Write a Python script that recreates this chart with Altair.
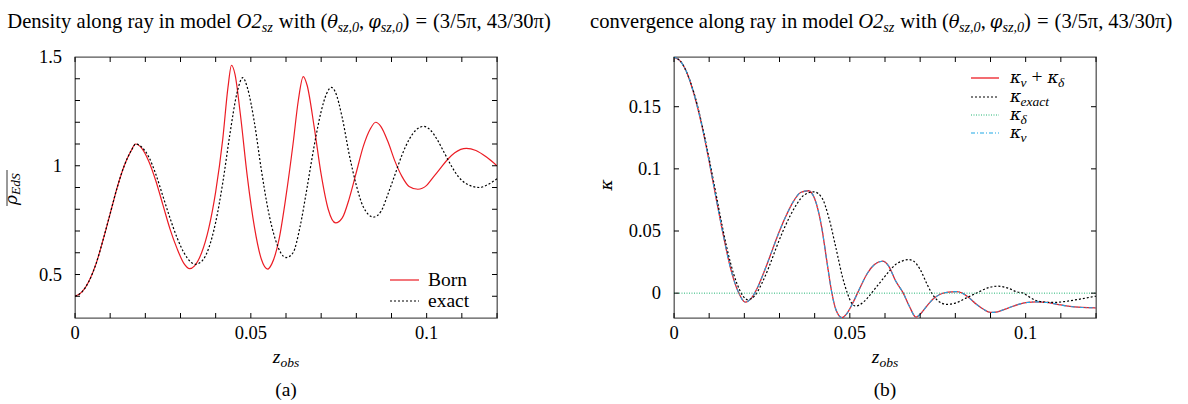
import altair as alt
import pandas as pd

# ---------------- data ----------------
z_born = [0.000, 0.002, 0.004, 0.006, 0.008, 0.010, 0.012, 0.014, 0.016, 0.0172,
          0.019, 0.021, 0.023, 0.025, 0.027, 0.029, 0.031, 0.0326, 0.034, 0.036,
          0.038, 0.040, 0.042, 0.0435, 0.0445, 0.0455, 0.047, 0.049, 0.051, 0.053,
          0.0548, 0.056, 0.058, 0.060, 0.062, 0.0635, 0.0649, 0.066, 0.068, 0.070,
          0.072, 0.0741, 0.076, 0.078, 0.080, 0.082, 0.084, 0.0855, 0.087, 0.089,
          0.091, 0.093, 0.095, 0.0975, 0.100, 0.102, 0.104, 0.106, 0.108, 0.1113,
          0.114, 0.117, 0.120]
rho_born = [0.40, 0.42, 0.47, 0.55, 0.66, 0.78, 0.90, 1.00, 1.07, 1.10,
            1.08, 1.02, 0.93, 0.82, 0.71, 0.62, 0.55, 0.527, 0.54, 0.60,
            0.71, 0.88, 1.12, 1.36, 1.462, 1.42, 1.24, 0.95, 0.72, 0.57,
            0.525, 0.55, 0.66, 0.86, 1.10, 1.30, 1.41, 1.37, 1.18, 0.96,
            0.80, 0.737, 0.76, 0.85, 0.97, 1.09, 1.17, 1.20, 1.18, 1.11,
            1.02, 0.95, 0.905, 0.892, 0.91, 0.95, 0.99, 1.03, 1.06, 1.08,
            1.07, 1.04, 1.00]

z_exact = [0.000, 0.002, 0.004, 0.006, 0.008, 0.010, 0.012, 0.014, 0.016, 0.0173,
           0.019, 0.021, 0.023, 0.025, 0.027, 0.029, 0.031, 0.033, 0.0342, 0.036,
           0.038, 0.040, 0.042, 0.044, 0.046, 0.0477, 0.049, 0.051, 0.053, 0.055,
           0.057, 0.0585, 0.0601, 0.062, 0.064, 0.066, 0.068, 0.070, 0.0715, 0.0729,
           0.074, 0.076, 0.078, 0.080, 0.082, 0.0849, 0.087, 0.089, 0.091, 0.093,
           0.095, 0.097, 0.0992, 0.101, 0.103, 0.105, 0.107, 0.109, 0.111, 0.113,
           0.1151, 0.117, 0.120]
rho_exact = [0.40, 0.42, 0.47, 0.55, 0.66, 0.78, 0.90, 1.00, 1.07, 1.10,
             1.085, 1.04, 0.96, 0.86, 0.76, 0.67, 0.60, 0.556, 0.547, 0.56,
             0.62, 0.74, 0.92, 1.14, 1.33, 1.405, 1.36, 1.20, 0.98, 0.79,
             0.66, 0.60, 0.578, 0.60, 0.72, 0.90, 1.09, 1.25, 1.33, 1.36,
             1.34, 1.22, 1.05, 0.91, 0.81, 0.764, 0.79, 0.87, 0.96, 1.05,
             1.12, 1.165, 1.181, 1.165, 1.12, 1.06, 1.00, 0.95, 0.92, 0.905,
             0.90, 0.91, 0.94]

z_kappa = [0.000, 0.002, 0.004, 0.006, 0.008, 0.010, 0.012, 0.014, 0.016, 0.018,
           0.0203, 0.022, 0.024, 0.026, 0.028, 0.030, 0.032, 0.034, 0.036, 0.0382,
           0.040, 0.042, 0.0435, 0.0449, 0.046, 0.0478, 0.049, 0.051, 0.053, 0.055,
           0.057, 0.0593, 0.061, 0.063, 0.0652, 0.067, 0.0688, 0.070, 0.072, 0.074,
           0.076, 0.078, 0.0803, 0.082, 0.084, 0.086, 0.088, 0.0900, 0.092, 0.095,
           0.098, 0.1005, 0.103, 0.106, 0.109, 0.112, 0.116, 0.120]
kappa_v = [0.190, 0.186, 0.175, 0.157, 0.134, 0.106, 0.076, 0.047, 0.021, 0.003,
           -0.0072, -0.004, 0.006, 0.020, 0.035, 0.050, 0.063, 0.074, 0.081, 0.0824,
           0.076, 0.053, 0.025, 0.000, -0.013, -0.0198, -0.017, -0.007, 0.005, 0.016,
           0.023, 0.0257, 0.022, 0.010, 0.000, -0.011, -0.0193, -0.017, -0.010, -0.004,
           -0.0005, 0.0008, 0.0012, 0.000, -0.004, -0.009, -0.013, -0.0155, -0.015, -0.012,
           -0.009, -0.0075, -0.0070, -0.0075, -0.0090, -0.0105, -0.0115, -0.0118]
kappa_sum = kappa_v  # kappa_v + kappa_delta coincides with kappa_v in the picture

z_kexact = [0.000, 0.002, 0.004, 0.006, 0.008, 0.010, 0.012, 0.014, 0.016, 0.018,
            0.021, 0.023, 0.025, 0.027, 0.029, 0.031, 0.033, 0.035, 0.037, 0.0398,
            0.042, 0.044, 0.046, 0.048, 0.0493, 0.0505, 0.0517, 0.053, 0.055, 0.057,
            0.059, 0.061, 0.063, 0.065, 0.0667, 0.068, 0.070, 0.072, 0.0733, 0.075,
            0.0775, 0.080, 0.083, 0.086, 0.089, 0.0921, 0.095, 0.0975, 0.0993, 0.101,
            0.103, 0.1055, 0.108, 0.111, 0.114, 0.117, 0.120]
kappa_exact = [0.190, 0.186, 0.175, 0.158, 0.135, 0.108, 0.079, 0.050, 0.025, 0.007,
               -0.0053, -0.002, 0.008, 0.021, 0.036, 0.050, 0.062, 0.072, 0.079, 0.0815,
               0.077, 0.061, 0.037, 0.012, 0.000, -0.008, -0.0104, -0.009, -0.004, 0.003,
               0.010, 0.017, 0.023, 0.026, 0.027, 0.026, 0.019, 0.007, 0.000, -0.006,
               -0.009, -0.008, -0.004, 0.000, 0.004, 0.0056, 0.004, 0.001, 0.000, -0.003,
               -0.006, -0.0072, -0.0075, -0.0068, -0.0055, -0.004, -0.0024]

z_kdelta = [0.0, 0.12]
kappa_delta = [0.0, 0.0]

x_ticks = [0.00, 0.01, 0.02, 0.03, 0.04, 0.05, 0.06, 0.07, 0.08, 0.09, 0.10, 0.11, 0.12]
x_labels = [0, 0.05, 0.1]
rho_ticks = [0.4, 0.5, 0.6, 0.7, 0.8, 0.9, 1.0, 1.1, 1.2, 1.3, 1.4]
rho_labels = [0.5, 1, 1.5]
kappa_ticks = [0.0, 0.05, 0.10, 0.15]
kappa_labels = [0, 0.05, 0.1, 0.15]

# ---------------- styling ----------------
FONT = "Liberation Serif"
GFONT = "DejaVu Serif"
RED = "#ec1c24"
BLUE = "#1ea7e6"
GREEN = "#22b573"
W, H = 422, 261
LS = 18.5    # tick label size

TW = {' ': 250, '\u00a0': 250, 'a': 444, 'b': 500, 'c': 444, 'd': 500, 'e': 444, 'f': 333,
      'g': 500, 'h': 500, 'i': 278, 'j': 278, 'k': 500, 'l': 278, 'm': 778, 'n': 500,
      'o': 500, 'p': 500, 'q': 500, 'r': 333, 's': 389, 't': 278, 'u': 500, 'v': 444,
      'w': 722, 'x': 444, 'y': 500, 'z': 389, 'D': 722, 'O': 722, 'E': 611, 'S': 500,
      '(': 333, ')': 333, ',': 250, '.': 250, '=': 564, '/': 278, '+': 564, 'π': 549,
      'θ': 560, 'φ': 700, 'κ': 620, 'ρ': 620, 'δ': 590}

BODY = dict(fs=19.5, ss=13.5, gs=17)
TITLE = dict(fs=20.6, ss=14.2, gs=18)


def tw(s, size):
    return sum(TW.get(c, 500) for c in s) * size / 1000.0


one = pd.DataFrame({"k": [0]})


def txt(text, x, y, size=19.5, style="normal", angle=0, align="left", baseline="alphabetic", font=FONT):
    return alt.Chart(one).mark_text(
        text=text, font=font, fontSize=size, fontStyle=style, angle=angle,
        align=align, baseline=baseline, color="black"
    ).encode(x=alt.value(x), y=alt.value(y))


def run(segs, x0, y0, sz=BODY):
    """segs: (text, kind, gap_after) with kind n (normal), i (italic), s (subscript), g (greek)"""
    out = []
    x = x0
    fs, ss, gs = sz["fs"], sz["ss"], sz["gs"]
    for text, kind, gap in segs:
        if kind == "n":
            out.append(txt(text, x, y0, size=fs))
            x += tw(text, fs)
        elif kind == "i":
            out.append(txt(text, x, y0, size=fs, style="italic"))
            x += tw(text, fs)
        elif kind == "s":
            out.append(txt(text, x, y0 + 4, size=ss, style="italic"))
            x += tw(text, ss)
        else:
            out.append(txt(text, x, y0, size=gs, style="italic", font=GFONT))
            x += tw(text, gs)
        x += gap
    return out


def title_segs(first):
    return [(first, "n", 5),
            ("O2", "i", 0), ("sz", "s", 6),
            ("with", "n", 5), ("(", "n", 0), ("θ", "g", 0), ("sz,0", "s", 0),
            (",", "n", 4), ("φ", "g", 0), ("sz,0", "s", 0), (")", "n", 6),
            ("=", "n", 6), ("(3/5π,", "n", 4), ("43/30π)", "n", 0)]


XS = alt.Scale(domain=[0, 0.12], nice=False, zero=False)


def frame_layers(yscale, yticks, ylabels):
    dx = pd.DataFrame({"t": x_ticks})
    dy = pd.DataFrame({"t": yticks})
    base = dict(color="black", strokeWidth=1)
    xl = pd.DataFrame({"t": x_labels})
    yl = pd.DataFrame({"t": ylabels})
    return [
        alt.Chart(dx).mark_rule(**base).encode(x=alt.X("t:Q", scale=XS, axis=None), y=alt.value(H), y2=alt.value(H - 5)),
        alt.Chart(dx).mark_rule(**base).encode(x=alt.X("t:Q", scale=XS, axis=None), y=alt.value(0), y2=alt.value(5)),
        alt.Chart(dy).mark_rule(**base).encode(y=alt.Y("t:Q", scale=yscale, axis=None), x=alt.value(0), x2=alt.value(5)),
        alt.Chart(dy).mark_rule(**base).encode(y=alt.Y("t:Q", scale=yscale, axis=None), x=alt.value(W - 5), x2=alt.value(W)),
        alt.Chart(xl).mark_text(font=FONT, fontSize=LS, align="center", baseline="top", color="black").encode(
            x=alt.X("t:Q", scale=XS, axis=None), y=alt.value(H + 6), text=alt.Text("t:Q", format="~g")),
        alt.Chart(yl).mark_text(font=FONT, fontSize=LS, align="right", baseline="middle", color="black").encode(
            y=alt.Y("t:Q", scale=yscale, axis=None), x=alt.value(-13), text=alt.Text("t:Q", format="~g")),
    ]


def xtitle(label):
    fs, ss = BODY["fs"], BODY["ss"]
    zw = tw("z", fs) + tw("obs", ss)
    return [txt("z", W / 2 - zw / 2, 306, size=fs, style="italic"),
            txt("obs", W / 2 - zw / 2 + tw("z", fs), 310, size=ss, style="italic"),
            txt(label, W / 2, 339, size=fs, align="center")]


# ---------------- panel (a) ----------------
YS_rho = alt.Scale(domain=[0.3, 1.5], nice=False, zero=False)
df_born = pd.DataFrame({"z": z_born, "v": rho_born})
df_exact = pd.DataFrame({"z": z_exact, "v": rho_exact})

born = alt.Chart(df_born).mark_line(color=RED, strokeWidth=1.2, interpolate="monotone", clip=True).encode(
    x=alt.X("z:Q", scale=XS, axis=None), y=alt.Y("v:Q", scale=YS_rho, axis=None))
exact = alt.Chart(df_exact).mark_line(color="black", strokeWidth=1.2, strokeDash=[2, 2],
                                      interpolate="monotone", clip=True).encode(
    x=alt.X("z:Q", scale=XS, axis=None), y=alt.Y("v:Q", scale=YS_rho, axis=None))

leg_a = [
    alt.Chart(one).mark_rule(color=RED, strokeWidth=1.2).encode(x=alt.value(315), x2=alt.value(344), y=alt.value(223)),
    alt.Chart(one).mark_rule(color="black", strokeWidth=1.2, strokeDash=[2, 2]).encode(x=alt.value(315), x2=alt.value(344), y=alt.value(244)),
    txt("Born", 353, 223, baseline="middle"),
    txt("exact", 353, 244, baseline="middle"),
]

ylab_a = [
    alt.Chart(one).mark_rule(color="black", strokeWidth=0.8).encode(x=alt.value(-68), y=alt.value(113), y2=alt.value(149)),
    txt("ρ", -58, 148, size=BODY["gs"], style="italic", angle=270, font=GFONT),
    txt("EdS", -55.5, 138, size=BODY["ss"], style="italic", angle=270),
]

panel_a = alt.layer(
    born, exact, *frame_layers(YS_rho, rho_ticks, rho_labels), *leg_a, *ylab_a,
    *run(title_segs("Density along ray in model"), -67.7, -29, TITLE),
    *xtitle("(a)")
).properties(width=W, height=H)

# ---------------- panel (b) ----------------
YS_k = alt.Scale(domain=[-0.02, 0.19], nice=False, zero=False)
df_sum = pd.DataFrame({"z": z_kappa, "v": kappa_sum})
df_kv = pd.DataFrame({"z": z_kappa, "v": kappa_v})
df_kex = pd.DataFrame({"z": z_kexact, "v": kappa_exact})
df_kd = pd.DataFrame({"z": z_kdelta, "v": kappa_delta})

l_sum = alt.Chart(df_sum).mark_line(color=RED, strokeWidth=1.3, interpolate="monotone", clip=True).encode(
    x=alt.X("z:Q", scale=XS, axis=None), y=alt.Y("v:Q", scale=YS_k, axis=None))
l_kex = alt.Chart(df_kex).mark_line(color="black", strokeWidth=1.2, strokeDash=[2, 2],
                                    interpolate="monotone", clip=True).encode(
    x=alt.X("z:Q", scale=XS, axis=None), y=alt.Y("v:Q", scale=YS_k, axis=None))
l_kd = alt.Chart(df_kd).mark_line(color=GREEN, strokeWidth=1.0, strokeDash=[1, 1.5], clip=True).encode(
    x=alt.X("z:Q", scale=XS, axis=None), y=alt.Y("v:Q", scale=YS_k, axis=None))
l_kv = alt.Chart(df_kv).mark_line(color=BLUE, strokeWidth=1.1, strokeDash=[4, 2, 1, 2],
                                  interpolate="monotone", clip=True).encode(
    x=alt.X("z:Q", scale=XS, axis=None), y=alt.Y("v:Q", scale=YS_k, axis=None))

LX0, LX1, LT = 297, 325, 336
rows = [21, 40, 58, 76]
leg_b = [
    alt.Chart(one).mark_rule(color=RED, strokeWidth=1.3).encode(x=alt.value(LX0), x2=alt.value(LX1), y=alt.value(rows[0])),
    alt.Chart(one).mark_rule(color="black", strokeWidth=1.2, strokeDash=[2, 2]).encode(x=alt.value(LX0), x2=alt.value(LX1), y=alt.value(rows[1])),
    alt.Chart(one).mark_rule(color=GREEN, strokeWidth=1.0, strokeDash=[1, 1.5]).encode(x=alt.value(LX0), x2=alt.value(LX1), y=alt.value(rows[2])),
    alt.Chart(one).mark_rule(color=BLUE, strokeWidth=1.1, strokeDash=[4, 2, 1, 2]).encode(x=alt.value(LX0), x2=alt.value(LX1), y=alt.value(rows[3])),
]
leg_b += run([("κ", "g", 0), ("v", "s", 5), ("+", "n", 5), ("κ", "g", 0), ("δ", "s", 0)], LT, rows[0] + 5)
leg_b += run([("κ", "g", 0), ("exact", "s", 0)], LT, rows[1] + 5)
leg_b += run([("κ", "g", 0), ("δ", "s", 0)], LT, rows[2] + 5)
leg_b += run([("κ", "g", 0), ("v", "s", 0)], LT, rows[3] + 5)

ylab_b = [txt("κ", -62, 128, size=BODY["gs"], style="italic", angle=270, align="center", font=GFONT)]

panel_b = alt.layer(
    l_sum, l_kex, l_kd, l_kv, *frame_layers(YS_k, kappa_ticks, kappa_labels), *leg_b, *ylab_b,
    *run(title_segs("convergence along ray in model"), -84, -29, TITLE),
    *xtitle("(b)")
).properties(width=W, height=H)

chart = alt.hconcat(panel_a, panel_b, spacing=177, bounds="flush").properties(
    padding={"left": 2, "top": 11, "right": 5, "bottom": 2}
).configure_view(stroke="#555555", strokeWidth=1.3)

chart.save("out.html", embed_options={"renderer": "svg", "actions": False})
